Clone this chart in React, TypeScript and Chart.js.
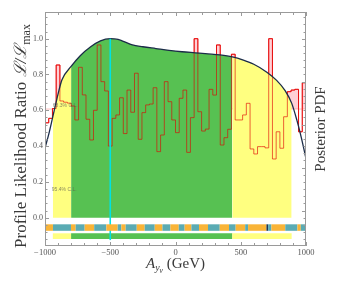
import React, { useEffect, useRef } from "react";
import { Chart, registerables } from "chart.js";

Chart.register(...registerables);

// ---------------- data ----------------
const xRange = [-1000, 1000];
const yRange = [-0.158, 1.149];
const xTickValues = [-1000, -500, 0, 500, 1000];
const yTickValues = [0, 0.2, 0.4, 0.6, 0.8, 1.0];

// profile likelihood ratio curve
const curveX = [-1000, -970, -940, -910, -870, -800, -730, -650, -575, -500, -440, -400, -330, -250, -150, -50, 50, 150, 250, 340, 435, 520, 600, 700, 775, 840, 890, 930, 965, 1000];
const curveY = [0.39, 0.47, 0.565, 0.66, 0.77, 0.845, 0.905, 0.955, 0.988, 1.0, 0.996, 0.985, 0.965, 0.955, 0.945, 0.935, 0.927, 0.921, 0.915, 0.909, 0.898, 0.88, 0.857, 0.813, 0.767, 0.71, 0.64, 0.545, 0.445, 0.33];

// posterior pdf histogram (70 bins over histRange)
const histRange = [-1000, 1000];
const histValues = [
  0.53, 0.555, 0.61, 0.853, 0.652, 0.645, 0.64, 0.624, 0.546, 0.84,
  0.686, 0.55, 0.434, 0.6, 0.965, 0.76, 0.708, 0.4, 0.555, 0.574,
  0.67, 0.47, 0.713, 0.589, 0.807, 0.438, 0.587, 0.63, 0.635, 0.726,
  0.369, 0.462, 0.76, 0.648, 0.546, 0.475, 0.667, 0.713, 0.365, 0.559,
  1.0, 0.592, 0.484, 0.495, 0.717, 0.685, 0.965, 0.406, 0.447, 0.494,
  0.913, 0.546, 0.546, 0.574, 0.639, 0.384, 0.356, 0.397, 0.397, 0.39,
  1.0, 0.328, 0.48, 0.388, 0.564, 0.704, 0.713, 0.717, 0.48, 0.754,
];

const interval68 = [-800, 435];
const interval95 = [-940, 890];
const bestFitX = -500;
const level68 = 0.607;
const level95 = 0.135;
const label68 = "68.3% C.L.";
const label95 = "95.4% C.L.";

// credible-region strip
const stripEdges = [-1000, -939, -801, -765, -696, -623, -530, -443, -415, -382, -297, -236, -159, -100, -39, 25, 70, 122, 180, 249, 339, 410, 461, 534, 556, 697, 710, 735, 841, 934, 960, 1000];
const stripKinds = ["O", "T", "O", "T", "O", "T", "O", "T", "O", "T", "O", "T", "O", "T", "O", "T", "O", "T", "O", "T", "O", "T", "O", "T", "O", "D", "T", "O", "T", "O", "T"];

const yTitle = ["Profile Likelihood Ratio ", "ℒ/ℒ", "max"];
const xTitle = ["A", "y", "ν", " (GeV)"];
const y2Title = "Posterior PDF";

// ---------------- styles ----------------
const GREEN = "#57c152";
const YELLOW = "#ffff80";
const STRIP: Record<string, string> = { O: "#f9b437", T: "#5aabb3", D: "#1f3550" };
const SERIF = '"Liberation Serif", "DejaVu Serif", serif';
const TEXT = "#3a3a3a";

function fmtX(v: number) {
  return v < 0 ? "\u2212" + Math.abs(v) : String(v);
}

type Run = { text: string; font: string; dy?: number };
function drawRuns(ctx: CanvasRenderingContext2D, runs: Run[], x: number, y: number, angle: number) {
  ctx.save();
  ctx.translate(x, y);
  ctx.rotate(angle);
  ctx.textBaseline = "alphabetic";
  ctx.textAlign = "left";
  let total = 0;
  const widths = runs.map((r) => {
    ctx.font = r.font;
    const w = ctx.measureText(r.text).width;
    total += w;
    return w;
  });
  let u = -total / 2;
  runs.forEach((r, i) => {
    ctx.font = r.font;
    ctx.fillText(r.text, u, r.dy || 0);
    u += widths[i];
  });
  ctx.restore();
}

const decorPlugin = {
  id: "decor",
  afterDatasetsDraw(chart: any) {
    const { ctx, chartArea: a, scales } = chart;
    const x = scales.x;
    const y = scales.y;
    ctx.save();
    ctx.strokeStyle = "#9a9a9a";
    ctx.lineWidth = 1;
    ctx.beginPath();
    for (let v = xRange[0]; v <= xRange[1] + 1e-6; v += 100) {
      const px = Math.round(x.getPixelForValue(v)) + 0.5;
      const len = v % 500 === 0 ? 4 : 3;
      ctx.moveTo(px, a.top);
      ctx.lineTo(px, a.top + len);
      ctx.moveTo(px, a.bottom);
      ctx.lineTo(px, a.bottom - len);
    }
    for (let k = -3; k <= 28; k++) {
      const v = k * 0.04;
      const py = Math.round(y.getPixelForValue(v)) + 0.5;
      const len = k % 5 === 0 ? 4 : 2.5;
      ctx.moveTo(a.left, py);
      ctx.lineTo(a.left + len, py);
    }
    for (let k = -3; k <= 28; k++) {
      const v = 1 - k * 0.04;
      if (v < yRange[0] || v > yRange[1]) continue;
      const py = Math.round(y.getPixelForValue(v)) + 0.5;
      const len = k % 6 === 0 ? 4 : 2.5;
      ctx.moveTo(a.right, py);
      ctx.lineTo(a.right - len, py);
    }
    ctx.stroke();
    ctx.strokeRect(a.left + 0.5, a.top + 0.5, a.right - a.left - 1, a.bottom - a.top - 1);

    // C.L. labels
    ctx.fillStyle = "rgba(95,95,80,0.75)";
    ctx.font = '5px "Liberation Sans", sans-serif';
    ctx.textBaseline = "alphabetic";
    ctx.fillText(label68, x.getPixelForValue(interval95[0]), y.getPixelForValue(level68) - 2);
    ctx.fillText(label95, x.getPixelForValue(interval95[0]) - 1, y.getPixelForValue(level95) - 3);

    // titles
    ctx.fillStyle = TEXT;
    drawRuns(
      ctx,
      [
        { text: yTitle[0], font: `17px ${SERIF}` },
        { text: yTitle[1], font: `italic 17px ${SERIF}` },
        { text: yTitle[2], font: `12px ${SERIF}`, dy: 3.5 },
      ],
      26,
      136,
      -Math.PI / 2
    );
    drawRuns(
      ctx,
      [
        { text: xTitle[0], font: `italic 15px ${SERIF}` },
        { text: xTitle[1], font: `italic 10px ${SERIF}`, dy: 3 },
        { text: xTitle[2], font: `italic 7.5px ${SERIF}`, dy: 5 },
        { text: xTitle[3], font: `15px ${SERIF}` },
      ],
      (a.left + a.right) / 2,
      268,
      0
    );
    drawRuns(ctx, [{ text: y2Title, font: `15px ${SERIF}` }], 325, (a.top + a.bottom) / 2, -Math.PI / 2);
    ctx.restore();
  },
};

export default function App() {
  const ref = useRef<HTMLCanvasElement | null>(null);

  useEffect(() => {
    const canvas = ref.current;
    if (!canvas) return;

    const n = histValues.length;
    const step = (histRange[1] - histRange[0]) / n;
    const histData = Array.from({ length: n + 1 }, (_, i) => ({
      x: histRange[0] + i * step,
      y: histValues[Math.min(i, n - 1)],
    }));
    const curveData = curveX.map((x, i) => ({ x, y: curveY[i] }));

    const chart = new Chart(canvas, {
      type: "line",
      data: {
        datasets: [
          {
            data: stripEdges.map((x) => ({ x, y: -0.055 })),
            borderColor: STRIP.O,
            borderWidth: 6.5,
            borderCapStyle: "butt",
            pointRadius: 0,
            segment: { borderColor: (c: any) => STRIP[stripKinds[c.p0DataIndex]] },
            order: 0,
          } as any,
          {
            data: [
              { x: bestFitX, y: -0.125 },
              { x: bestFitX, y: 1.0 },
            ],
            borderColor: "#00e2e2",
            borderWidth: 1.6,
            pointRadius: 0,
            order: 1,
          },
          {
            data: [interval95[0], interval68[0], interval68[1], interval95[1]].map((x) => ({ x, y: -0.103 })),
            borderColor: YELLOW,
            borderWidth: 5.7,
            borderCapStyle: "butt",
            pointRadius: 0,
            segment: { borderColor: (c: any) => (c.p0DataIndex === 1 ? GREEN : YELLOW) },
            order: 2,
          } as any,
          {
            data: curveData,
            borderColor: "#1b2c48",
            borderWidth: 1.3,
            pointRadius: 0,
            cubicInterpolationMode: "monotone",
            order: 3,
          },
          {
            data: histData,
            stepped: true,
            borderColor: "rgba(225,0,0,0.62)",
            borderWidth: 1,
            pointRadius: 0,
            order: 4,
          },
          {
            data: curveData,
            borderWidth: 0,
            borderColor: "rgba(0,0,0,0)",
            pointRadius: 0,
            cubicInterpolationMode: "monotone",
            fill: "origin",
            backgroundColor: GREEN,
            segment: {
              backgroundColor: (c: any) => {
                const m = (c.p0.parsed.x + c.p1.parsed.x) / 2;
                if (m < interval95[0] || m > interval95[1]) return "rgba(0,0,0,0)";
                if (m >= interval68[0] && m <= interval68[1]) return GREEN;
                return YELLOW;
              },
            },
            order: 5,
          } as any,
          {
            data: [
              { x: xRange[0], y: level68 },
              { x: xRange[1], y: level68 },
            ],
            borderColor: "rgba(255,110,110,0.45)",
            borderWidth: 1,
            pointRadius: 0,
            order: 6,
          },
          {
            data: histData,
            stepped: true,
            borderColor: "rgba(240,25,25,0.95)",
            borderWidth: 1,
            backgroundColor: "rgba(255,170,180,0.55)",
            fill: { value: level68, above: "rgba(255,170,180,0.55)", below: "rgba(0,0,0,0)" },
            pointRadius: 0,
            order: 7,
          } as any,
        ],
      },
      options: {
        responsive: false,
        animation: false,
        devicePixelRatio: 1,
        layout: { padding: { top: 12, right: 47, left: 0, bottom: 0 } },
        plugins: { legend: { display: false }, tooltip: { enabled: false } },
        scales: {
          x: {
            type: "linear",
            min: xRange[0],
            max: xRange[1],
            afterBuildTicks: (ax: any) => {
              ax.ticks = xTickValues.map((value) => ({ value }));
            },
            afterFit: (ax: any) => {
              ax.height = 37;
            },
            grid: { display: false, drawTicks: false },
            border: { display: false },
            ticks: {
              callback: (v: any) => fmtX(Number(v)),
              font: { family: SERIF, size: 8.5 },
              color: "#555",
              padding: 2,
              maxRotation: 0,
              autoSkip: false,
            },
          },
          y: {
            type: "linear",
            min: yRange[0],
            max: yRange[1],
            afterBuildTicks: (ax: any) => {
              ax.ticks = yTickValues.map((value) => ({ value }));
            },
            afterFit: (ax: any) => {
              ax.width = 45;
            },
            grid: { display: false, drawTicks: false },
            border: { display: false },
            ticks: {
              callback: (v: any) => Number(v).toFixed(1),
              font: { family: SERIF, size: 8 },
              color: "#555",
              padding: 2,
            },
          },
        },
      },
      plugins: [decorPlugin],
    });

    return () => chart.destroy();
  }, []);

  return (
    <div style={{ position: "absolute", left: 0, top: 0, width: 353, height: 283, background: "#fff" }}>
      <canvas ref={ref} width={353} height={283} />
    </div>
  );
}
